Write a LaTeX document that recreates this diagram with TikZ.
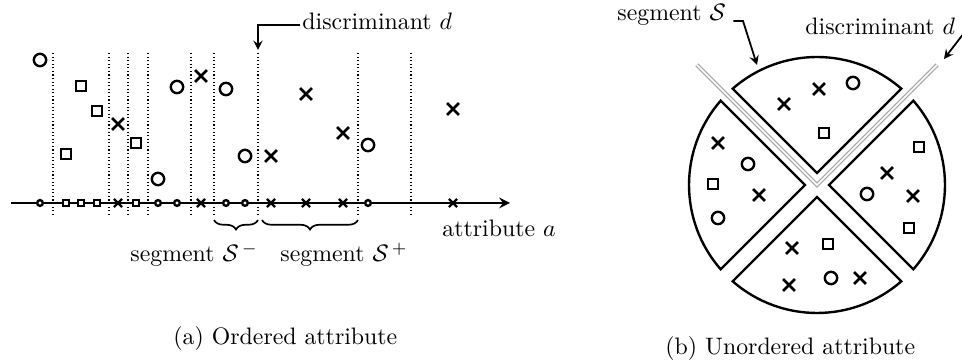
\documentclass[tikz,border=0pt]{standalone}
\usetikzlibrary{shapes.misc,decorations.pathreplacing}
\tikzset{
  mk o/.style={circle, draw, fill=white, line width=1pt, inner sep=0pt, minimum size=5.2pt},
  mk s/.style={rectangle, draw, fill=white, line width=1pt, inner sep=0pt, minimum size=4.4pt},
  mk x/.style={cross out, draw, line width=1.1pt, inner sep=0pt, minimum size=3.9pt},
  onaxis/.style={minimum size=2.4pt, line width=1pt},
  lbl/.style={inner sep=0pt, anchor=base west},
  pointer/.style={->, line width=0.75pt},
  discline/.style={draw=gray!70, double=white, double distance=0.7pt, line width=0.5pt},
  wedge/.style={line width=1pt}
}
\begin{document}
\begin{tikzpicture}[x=0.42pt, y=0.42pt, >=stealth]
  \useasboundingbox (0,0) rectangle (962,362);
  % (a) ordered attribute
  \coordinate (ax0) at (11,159);
  \coordinate (ax1) at (510,159);
  \draw[->, line width=1pt] (ax0) -- (ax1);
  \foreach \x in {53,109,128,148,191,214,258,358,411}
    \draw[densely dotted, line width=0.5pt] (\x,309) -- (\x,147);
  \foreach \x/\y/\m [count=\i] in {40/302/o, 66/208/s, 81/276/s, 97/251/s, 118/238/x, 136/219/s,
      158/183/o, 177/275/o, 201/286/x, 226/273/o, 245/206/o, 271/206/x, 306/268/x,
      343/229/x, 368/217/o, 453/253/x} {
    \node[mk \m] (p\i) at (\x,\y) {};
    \node[mk \m, onaxis] (q\i) at (\x,159) {};
  }
  % discriminant
  \node[lbl] (disc) at (302,332) {discriminant $d$};
  \coordinate (dtip) at (258,312);
  \draw[pointer] ([xshift=-1pt]disc.mid west) -| (dtip);
  % segments
  \draw[decorate, decoration={brace, mirror, amplitude=4pt}, line width=0.7pt] (214,142) -- (258,142);
  \draw[decorate, decoration={brace, mirror, amplitude=4pt}, line width=0.7pt] (262,142) -- (358,142);
  \node[lbl] (segm) at (130,100) {segment $\mathcal{S}^{\,-}$};
  \node[lbl] (segp) at (280,100) {segment $\mathcal{S}^{\,+}$};
  \node[lbl] (attr) at (442,125) {attribute $a$};
  \node[lbl] (capa) at (173,17) {(a) Ordered attribute};
  % (b) unordered attribute
  \begin{scope}[shift={(817,177)}]
    \foreach \t in {0,90,180,270}
      \draw[wedge] (\t:12) -- (\t-41.2:128) arc[start angle=\t-41.2, end angle=\t+41.2, radius=128] -- cycle;
    \draw[discline] (135:170) -- (0,0) -- (45:170);
  \end{scope}
  \foreach \x/\y/\m [count=\i] in {784/258/x, 819/273/x, 853/279/o, 824/229/s,
      718/219/x, 748/198/o, 713/178/s, 759/167/x, 718/144/o,
      919/215/s, 887/189/x, 867/168/o, 913/166/x, 909/134/s,
      792/114/x, 828/118/s, 789/77/x, 831/84/o, 860/84/x}
    \node[mk \m] (r\i) at (\x,\y) {};
  \node[lbl] (segS) at (617,341) {segment $\mathcal{S}$};
  \coordinate (sbar) at (743,341);
  \coordinate (stip) at (757,297);
  \draw[pointer] ([xshift=3pt]segS.base east) -- (sbar) -- (stip);
  \node[lbl] (discR) at (805,327) {discriminant $d$};
  \coordinate (dbar) at (964,329);
  \coordinate (dtipR) at (944,303);
  \draw[pointer] ([xshift=3pt]discR.base east) -- (dbar) -- (dtipR);
  \node[lbl] (capb) at (665,7) {(b) Unordered attribute};
\end{tikzpicture}
\end{document}
